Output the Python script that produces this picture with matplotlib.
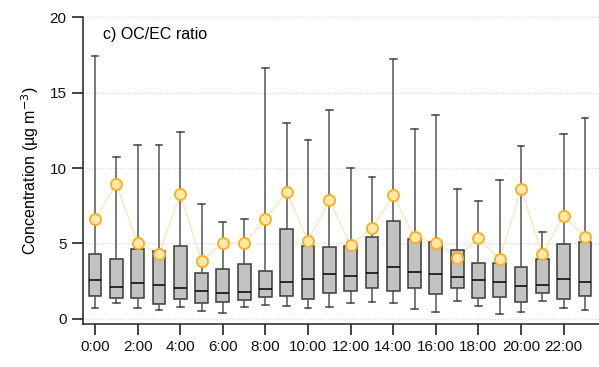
import numpy as np
import matplotlib
matplotlib.use("Agg")
import matplotlib.pyplot as plt

plt.rcParams['font.family'] = ['Liberation Sans', 'DejaVu Sans']

# hourly OC/EC ratio statistics
hours = list(range(24))
whislo = [0.71, 1.02, 0.71, 0.58, 0.77, 0.49, 0.40, 0.80, 0.91, 0.86, 0.69, 0.80,
          1.02, 1.13, 1.08, 0.64, 0.42, 1.17, 0.84, 0.35, 0.42, 1.15, 0.69, 0.60]
q1 = [1.48, 1.35, 1.35, 0.97, 1.31, 1.06, 1.11, 1.24, 1.42, 1.53, 1.31, 1.68,
      1.84, 2.04, 1.86, 2.04, 1.62, 2.01, 1.35, 1.44, 1.13, 1.70, 1.28, 1.48]
med = [2.54, 2.12, 2.35, 2.23, 2.06, 1.86, 1.68, 1.77, 1.97, 2.46, 2.63, 2.96,
       2.85, 3.05, 3.41, 3.08, 2.99, 2.79, 2.57, 2.43, 2.19, 2.26, 2.63, 2.46]
q3 = [4.31, 3.98, 4.60, 4.49, 4.82, 3.03, 3.30, 3.65, 3.14, 5.97, 4.80, 4.73,
      4.80, 5.44, 6.48, 5.31, 5.07, 4.58, 3.69, 3.67, 3.43, 3.96, 4.96, 5.09]
whishi = [17.46, 10.75, 11.50, 11.55, 12.37, 7.63, 6.42, 6.59, 16.66, 13.00, 11.84, 13.87,
          10.02, 9.38, 17.21, 12.61, 13.52, 8.61, 7.79, 9.18, 11.44, 5.73, 12.23, 13.30]
mean = [6.61, 8.94, 5.02, 4.31, 8.27, 3.85, 5.00, 5.00, 6.62, 8.38, 5.18, 7.85,
        4.87, 6.04, 8.19, 5.40, 5.04, 4.03, 5.35, 3.94, 8.63, 4.29, 6.84, 5.40]
tick_hours = list(range(0, 24, 2))
tick_labels = ["%d:00" % h for h in tick_hours]

stats = []
for i in range(len(hours)):
    stats.append(dict(whislo=whislo[i], q1=q1[i], med=med[i], q3=q3[i],
                      whishi=whishi[i], fliers=[]))

fig = plt.figure(figsize=(5.99, 3.67), dpi=100)
ax = fig.add_axes([0.138, 0.117, 0.862, 0.836])

ax.plot(hours, mean, color='#ffe2b8', lw=0.9, zorder=1)
ax.bxp(stats, positions=hours, widths=0.6, patch_artist=True, showcaps=True,
       boxprops=dict(facecolor='#c2c2c2', edgecolor='#3a3a3a', lw=1.1),
       medianprops=dict(color='black', lw=1.1),
       whiskerprops=dict(color='#555555', lw=1.1),
       capprops=dict(color='#444444', lw=1.1),
       capwidths=0.32, manage_ticks=False, zorder=2)
ax.plot(hours, mean, ls='none', marker='o', ms=8, mfc='#ffe7b0',
        mec='#ffad1a', mew=1.3, zorder=4)

ax.set_xlim(-0.58, 23.66)
ax.set_ylim(-0.35, 20)
ax.set_xticks(tick_hours)
ax.set_xticklabels(tick_labels)
ax.set_yticks([0, 5, 10, 15, 20])
ax.tick_params(direction='out', length=8, width=1.1, labelsize=11, colors='#111111')
ax.grid(axis='y', ls=(0, (1, 1.5)), color='#d8d8d8', lw=0.8)
ax.set_axisbelow(True)
for s in ['top', 'right']:
    ax.spines[s].set_visible(False)
for s in ['left', 'bottom']:
    ax.spines[s].set_linewidth(1.1)
    ax.spines[s].set_color('#222222')

ax.set_ylabel('Concentration (µg m$^{-3}$)', fontsize=11.5, labelpad=6)
ax.text(0.04, 0.945, 'c) OC/EC ratio', transform=ax.transAxes, fontsize=11.5,
        va='center', ha='left')

fig.savefig('out.png', dpi=100)
